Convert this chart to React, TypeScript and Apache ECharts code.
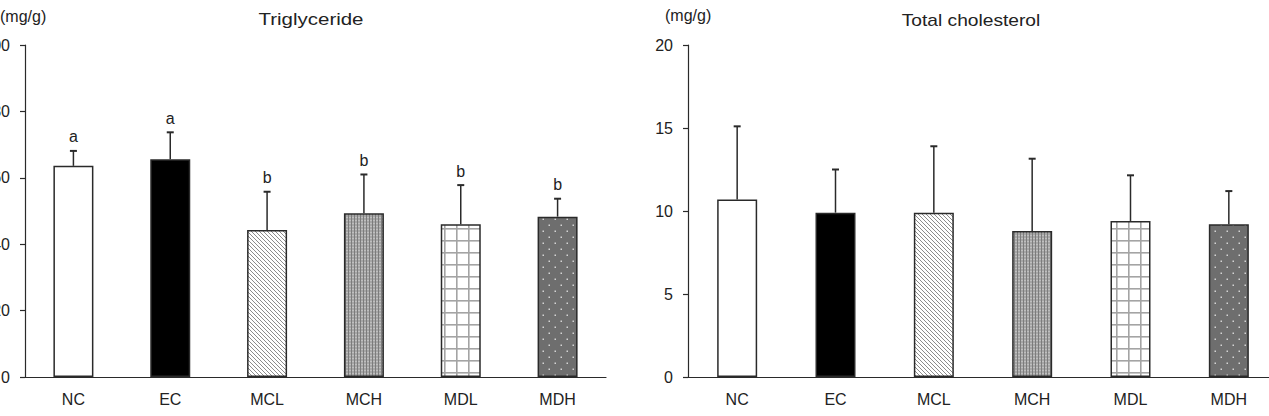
import React, { useEffect, useRef } from "react";
import * as echarts from "echarts";

// Groups shown on both panels
const categories = ["NC", "EC", "MCL", "MCH", "MDL", "MDH"];

// Triglyceride (mg/g): means, upper SD and significance letters
const tgMean = [63.6, 65.6, 44.3, 49.3, 46.0, 48.3];
const tgSd = [4.5, 8.1, 11.5, 11.7, 11.8, 5.4];
const tgLetters = ["a", "a", "b", "b", "b", "b"];

// Total cholesterol (mg/g): means and upper SD
const tcMean = [10.7, 9.9, 9.9, 8.8, 9.4, 9.2];
const tcSd = [4.4, 2.6, 4.0, 4.35, 2.75, 2.0];

const TEXT = "#222";
const LINE = "#2a2a2a";
const FONT = "'Liberation Sans', Arial, Helvetica, sans-serif";

function tile(w: number, h: number, draw: (ctx: CanvasRenderingContext2D) => void) {
  const c = document.createElement("canvas");
  c.width = w;
  c.height = h;
  const ctx = c.getContext("2d") as CanvasRenderingContext2D;
  draw(ctx);
  return c;
}

function buildFills() {
  const hatch = tile(4, 4, (ctx) => {
    ctx.fillStyle = "#fff";
    ctx.fillRect(0, 0, 4, 4);
    ctx.strokeStyle = "#8c8c8c";
    ctx.lineWidth = 1;
    ctx.beginPath();
    ctx.moveTo(-1, -1);
    ctx.lineTo(5, 5);
    ctx.moveTo(-1, 3);
    ctx.lineTo(1, 5);
    ctx.moveTo(3, -1);
    ctx.lineTo(5, 1);
    ctx.stroke();
  });
  const fine = tile(3, 3, (ctx) => {
    ctx.fillStyle = "#a6a6a6";
    ctx.fillRect(0, 0, 3, 3);
    ctx.fillStyle = "#7c7c7c";
    ctx.fillRect(0, 0, 1, 3);
    ctx.fillStyle = "#d8d8d8";
    ctx.fillRect(1.5, 1, 1, 1);
  });
  const grid = tile(12, 12, (ctx) => {
    ctx.fillStyle = "#fff";
    ctx.fillRect(0, 0, 12, 12);
    ctx.fillStyle = "#a4a4a4";
    ctx.fillRect(0, 0, 1.6, 12);
    ctx.fillRect(0, 0, 12, 1.6);
  });
  const dots = tile(12, 12, (ctx) => {
    ctx.fillStyle = "#6e6e6e";
    ctx.fillRect(0, 0, 12, 12);
    ctx.fillStyle = "#d4d4d4";
    ctx.fillRect(2.5, 2.5, 1.5, 1.5);
    ctx.fillRect(8.5, 8.5, 1.5, 1.5);
  });
  const pat = (c: HTMLCanvasElement) => ({ image: c, repeat: "repeat" as const });
  return ["#ffffff", "#000000", pat(hatch), pat(fine), pat(grid), pat(dots)];
}

function barData(values: number[], fills: any[]) {
  return values.map((v, i) => ({
    value: v,
    itemStyle: { color: fills[i], borderColor: LINE, borderWidth: 1.5 },
  }));
}

function errorSeries(
  xAxisIndex: number,
  means: number[],
  sds: number[],
  letters: string[] | null
) {
  return {
    type: "custom",
    xAxisIndex,
    yAxisIndex: xAxisIndex,
    z: 5,
    data: means.map((m, i) => [i, m, m + sds[i]]),
    renderItem: (params: any, api: any) => {
      const i = api.value(0);
      const base = api.coord([i, api.value(1)]);
      const top = api.coord([i, api.value(2)]);
      const stroke = { stroke: LINE, lineWidth: 1.5 };
      const children: any[] = [
        { type: "line", shape: { x1: base[0], y1: base[1], x2: top[0], y2: top[1] }, style: stroke },
        {
          type: "line",
          shape: { x1: top[0] - 3.5, y1: top[1], x2: top[0] + 3.5, y2: top[1] },
          style: { stroke: LINE, lineWidth: 2 },
        },
      ];
      if (letters) {
        children.push({
          type: "text",
          x: top[0],
          y: top[1] - 6,
          style: {
            text: letters[params.dataIndex],
            fill: TEXT,
            font: `16px ${FONT}`,
            align: "center",
            verticalAlign: "bottom",
          },
        });
      }
      return { type: "group", children };
    },
  };
}

function axisPair(gridIndex: number, max: number, interval: number) {
  return {
    x: {
      type: "category",
      gridIndex,
      data: categories,
      axisLine: { lineStyle: { color: LINE, width: 1.2 } },
      axisTick: { show: false },
      axisLabel: { color: TEXT, fontSize: 16, fontFamily: FONT, margin: 14 },
    },
    y: {
      type: "value",
      gridIndex,
      min: 0,
      max,
      interval,
      splitLine: { show: false },
      axisLine: { show: true, lineStyle: { color: LINE, width: 1.2 } },
      axisTick: { show: true, length: 5, lineStyle: { color: LINE, width: 1.2 } },
      axisLabel: { color: TEXT, fontSize: 16, fontFamily: FONT, margin: 15 },
    },
  };
}

function heading(text: string, x: number, y: number, scaleX: number, align: string) {
  return {
    type: "text",
    x,
    y,
    scaleX,
    style: {
      text,
      fill: TEXT,
      font: `16px ${FONT}`,
      align,
      verticalAlign: "middle",
    },
  };
}

export default function App() {
  const ref = useRef<HTMLDivElement>(null);

  useEffect(() => {
    if (!ref.current) return;
    const chart = echarts.init(ref.current, null, { renderer: "svg" });
    const fills = buildFills();
    const left = axisPair(0, 100, 20);
    const right = axisPair(1, 20, 5);

    chart.setOption({
      animation: false,
      backgroundColor: "#ffffff",
      grid: [
        { left: 25, top: 45, width: 581, height: 332, containLabel: false, outerBoundsMode: "none" },
        { left: 688, top: 45, width: 590, height: 332, containLabel: false, outerBoundsMode: "none" },
      ],
      xAxis: [left.x, right.x],
      yAxis: [left.y, right.y],
      graphic: [
        heading("(mg/g)", 0, 16, 1, "left"),
        heading("Triglyceride", 311, 19, 1.28, "center"),
        heading("(mg/g)", 665, 15, 1, "left"),
        heading("Total cholesterol", 971, 21, 1.2, "center"),
      ],
      series: [
        {
          type: "bar",
          xAxisIndex: 0,
          yAxisIndex: 0,
          barWidth: 40,
          data: barData(tgMean, fills),
        },
        errorSeries(0, tgMean, tgSd, tgLetters),
        {
          type: "bar",
          xAxisIndex: 1,
          yAxisIndex: 1,
          barWidth: 40,
          data: barData(tcMean, fills),
        },
        errorSeries(1, tcMean, tcSd, null),
      ],
    });

    return () => chart.dispose();
  }, []);

  return (
    <div
      ref={ref}
      style={{ position: "absolute", left: 0, top: 0, width: 1269, height: 416, overflow: "hidden" }}
    />
  );
}
